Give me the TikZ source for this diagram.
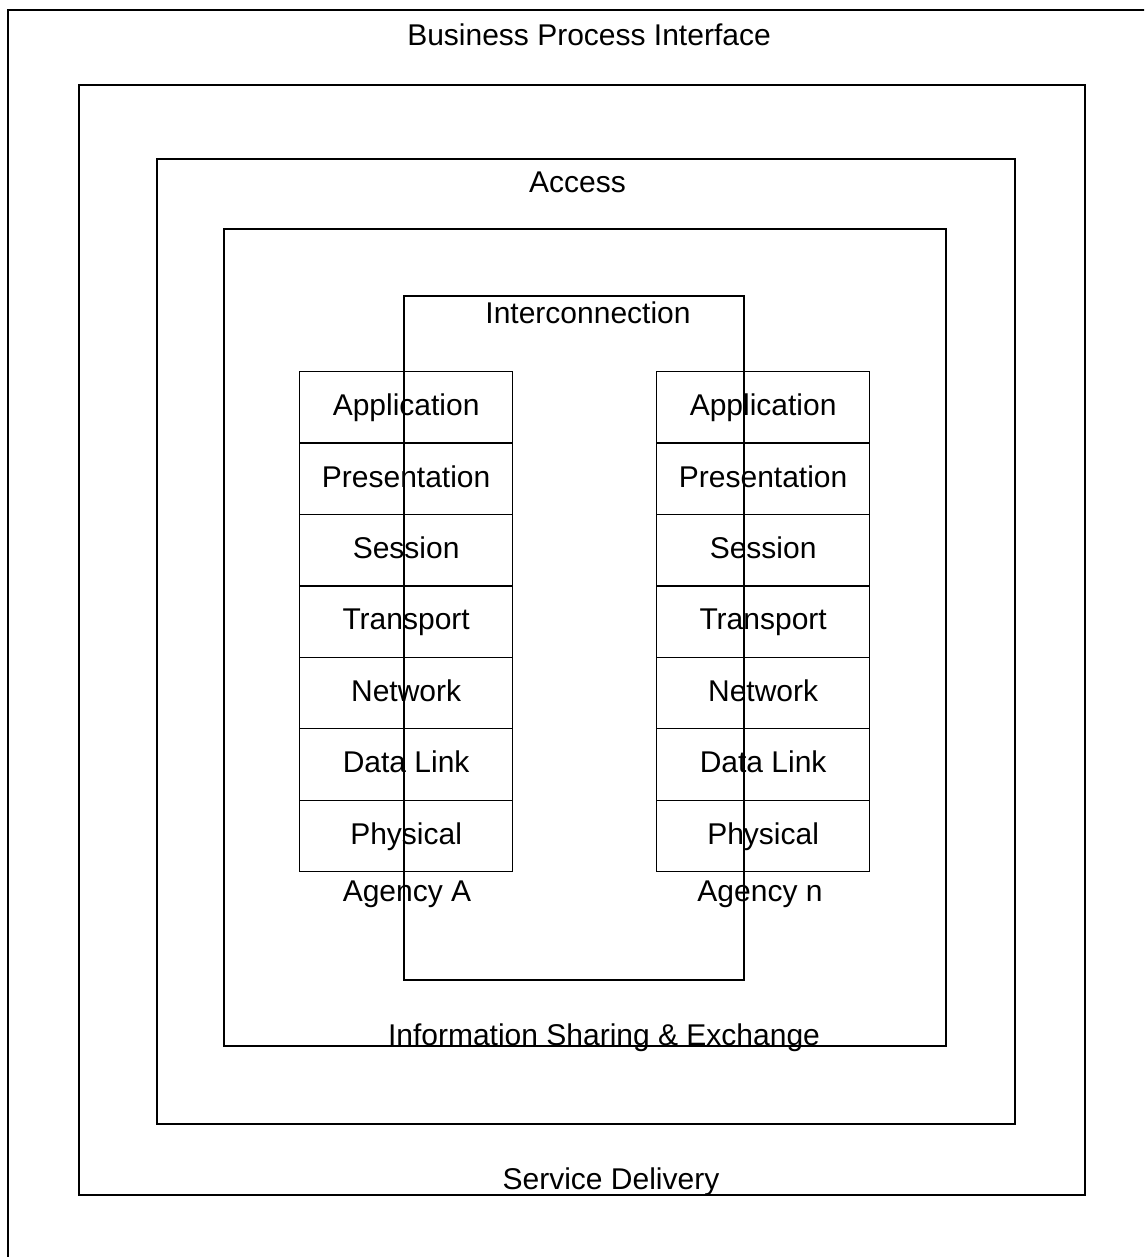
\documentclass[tikz,border=0pt]{standalone}
\usepackage{fontspec}
\setmainfont{Liberation Sans}
\begin{document}
\begin{tikzpicture}[x=1pt,y=-1pt, line width=1.3pt,
  lbl/.style={font=\fontsize{30}{36}\selectfont, inner sep=0pt, anchor=base},
  cell/.style={draw, minimum width=213pt, minimum height=71.43pt, inner sep=0pt,
    anchor=north west, font=\fontsize{30}{36}\selectfont, text height=16.6pt, text depth=0pt}]
\useasboundingbox (0,0) rectangle (1144,1257);
\clip (0,0) rectangle (1144,1257);
% nested frames
\draw (8,10) coordinate (r1a) rectangle (1170,1280) coordinate (r1b);
\draw (79,85) coordinate (r2a) rectangle (1085,1195) coordinate (r2b);
\draw (157,159) coordinate (r3a) rectangle (1015,1124) coordinate (r3b);
\draw (224,229) coordinate (r4a) rectangle (946,1046) coordinate (r4b);
\draw (404,296) coordinate (ica) rectangle (744,980) coordinate (icb);
% labels of frames
\node[lbl] (bpi) at (589,45.5) {Business Process Interface};
\node[lbl] (acc) at (577.5,193) {Access};
\node[lbl] (ic) at (588,323.5) {Interconnection};
\node[lbl] (ise) at (604,1045) {Information Sharing \& Exchange};
\node[lbl] (sd) at (611,1189) {Service Delivery};
% Agency stacks
\foreach \t [count=\i from 0] in {Application,Presentation,Session,Transport,Network,Data Link,Physical}{
  \node[cell] (a\i) at (299,371+\i*71.43) {\t};
  \node[cell] (n\i) at (656,371+\i*71.43) {\t};
}
\node[lbl] (agA) at (407,901.5) {Agency A};
\node[lbl] (agN) at (760,901.5) {Agency n};
\end{tikzpicture}
\end{document}
